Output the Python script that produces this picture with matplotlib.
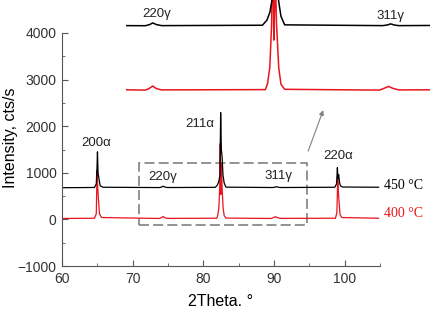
import matplotlib
matplotlib.use("Agg")
import matplotlib.pyplot as plt
from matplotlib.patches import Rectangle

plt.rcParams["font.family"] = ["Liberation Sans", "DejaVu Sans"]

# 450 °C scan (black)
x450 = [60, 64.6, 64.85, 64.95, 65.02, 65.1, 65.2, 65.4, 65.8,
        73.8, 74.1, 74.3, 74.55, 74.9,
        81.7, 82.0, 82.2, 82.35, 82.45, 82.55, 82.65, 82.78, 82.95, 83.2,
        89.8, 90.1, 90.35, 90.6, 90.9,
        98.6, 98.85, 98.97, 99.05, 99.15, 99.28, 99.4, 99.7, 104.8]
y450 = [680, 685, 760, 1100, 1450, 1000, 900, 720, 690,
        683, 695, 712, 695, 684,
        688, 740, 820, 950, 2290, 1500, 1350, 950, 780, 692,
        684, 690, 702, 690, 684,
        690, 760, 1110, 880, 960, 790, 720, 695, 690]

# 400 °C scan (red)
x400 = [60, 60.2, 64.6, 64.85, 64.97, 65.05, 65.15, 65.3, 65.6,
        73.8, 74.05, 74.3, 74.55, 74.9,
        81.9, 82.05, 82.2, 82.32, 82.39, 82.47, 82.57, 82.65, 82.8, 82.95, 83.2,
        89.6, 89.9, 90.2, 90.5, 90.9,
        98.7, 98.9, 99.02, 99.1, 99.2, 99.35, 99.6, 104.8]
y400 = [-30, 20, 25, 120, 1050, 700, 450, 120, 40,
        20, 35, 62, 35, 22,
        25, 90, 260, 700, 1630, 535, 1200, 700, 250, 80, 28,
        20, 38, 58, 38, 22,
        25, 150, 900, 600, 400, 100, 40, 25]

peak_labels = ["200α", "211α", "220γ", "311γ", "220α"]
peak_label_x = [64.8, 79.5, 74.2, 90.7, 99.1]
peak_label_y = [1630, 2050, 920, 940, 1350]

fig = plt.figure(figsize=(4.37, 3.11), dpi=100)
ax = fig.add_axes([62 / 437, 45 / 311, 318 / 437, 233 / 311])

ax.plot(x400, y400, color="#e8141c", lw=0.9)
ax.plot(x450, y450, color="black", lw=0.9)

ax.set_xlim(60, 105)
ax.set_ylim(-1000, 4000)
ax.set_xticks([60, 70, 80, 90, 100])
ax.set_xticks([65, 75, 85, 95, 105], minor=True)
ax.set_yticks([-1000, 0, 1000, 2000, 3000, 4000])
ax.set_yticks([-500, 500, 1500, 2500, 3500], minor=True)
for s in ["top", "right"]:
    ax.spines[s].set_visible(False)
for s in ["left", "bottom"]:
    ax.spines[s].set_color("#555555")
ax.tick_params(which="both", direction="in", colors="#555555", labelcolor="#333333",
               labelsize=10)
ax.tick_params(which="major", length=4, pad=4)
ax.tick_params(which="minor", length=2.5)

ax.set_xlabel("2Theta. °", fontsize=11.5)
ax.set_ylabel("Intensity, cts/s", fontsize=11.5)
ax.xaxis.set_label_coords(0.5, -0.12)
ax.yaxis.set_label_coords(-0.138, 0.55)

for lab, lx, ly in zip(peak_labels, peak_label_x, peak_label_y):
    ax.text(lx, ly, lab, fontsize=9.5, ha="center", va="center", color="#222222")

ax.text(105.5, 730, "450 °C", fontsize=10, family="Liberation Serif",
        va="center", ha="left", color="black", clip_on=False)
ax.text(105.5, 130, "400 °C", fontsize=10, family="Liberation Serif",
        va="center", ha="left", color="#e8141c", clip_on=False)

# zoom box and arrow
ax.add_patch(Rectangle((70.9, -130), 94.7 - 70.9, 1220 + 130, fill=False,
                       ec="#808080", lw=1.2, ls=(0, (6, 2.5))))
ax.annotate("", xy=(97.1, 2400), xytext=(94.7, 1410),
            arrowprops=dict(arrowstyle="-|>", color="#808080", lw=0.8,
                            mutation_scale=7))

# inset: magnified view of the boxed range
ins = fig.add_axes([126 / 437, 1 - 100 / 311, 304 / 437, 100 / 311])
ins.plot(x400, y400, color="#e8141c", lw=1.1)
ins.plot(x450, y450, color="black", lw=1.1)
ins.set_xlim(72.5, 93)
ins.set_ylim(-82, 948)
ins.axis("off")
fig.text(157 / 437, 1 - 14 / 311, "220γ", fontsize=9.5, ha="center", va="center",
         color="#222222")
fig.text(390 / 437, 1 - 16 / 311, "311γ", fontsize=9.5, ha="center", va="center",
         color="#222222")

fig.savefig("out.png", dpi=100)
